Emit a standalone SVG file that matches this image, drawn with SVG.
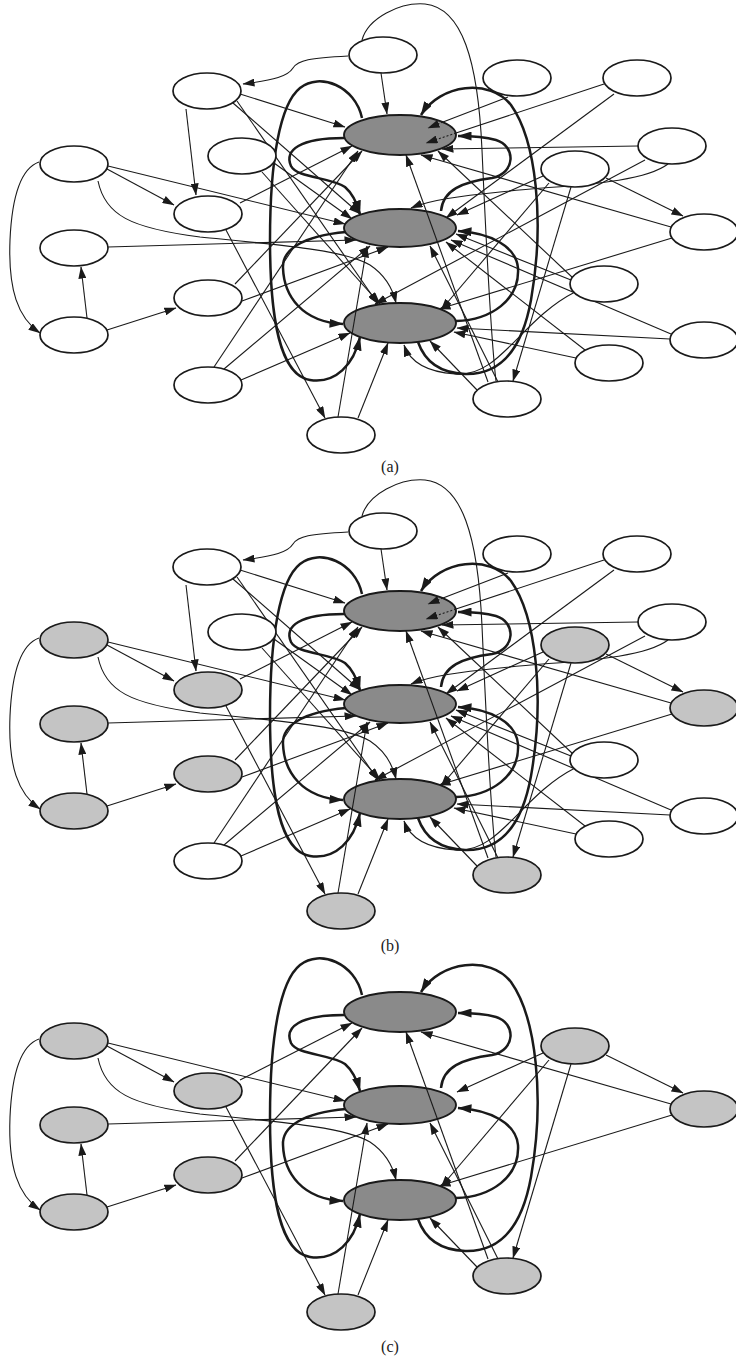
<svg xmlns="http://www.w3.org/2000/svg" width="736" height="1362" viewBox="0 0 736 1362">
<defs>
<marker id="ah" viewBox="0 0 12 8" refX="11.5" refY="4" markerWidth="12" markerHeight="8" markerUnits="userSpaceOnUse" orient="auto"><path d="M0,0 L12,4 L0,8 z" fill="#1a1a1a"/></marker>
<marker id="ahk" viewBox="0 0 14 9" refX="13.5" refY="4.5" markerWidth="14" markerHeight="9" markerUnits="userSpaceOnUse" orient="auto"><path d="M0,0 L14,4.5 L0,9 z" fill="#1a1a1a"/></marker>
</defs>
<style>
.w{fill:#fff;stroke:#1a1a1a;stroke-width:1.7}
.g{fill:#c4c4c4;stroke:#1a1a1a;stroke-width:1.7}
.d{fill:#8a8a8a;stroke:#1a1a1a;stroke-width:1.9}
.e{fill:none;stroke:#1a1a1a;stroke-width:1.1;marker-end:url(#ah)}
.s{fill:none;stroke:#1a1a1a;stroke-width:1.1}
.dash{fill:none;stroke:#1a1a1a;stroke-width:1.1;stroke-dasharray:2 2;marker-end:url(#ah)}
.k{fill:none;stroke:#1a1a1a;stroke-width:2.5;marker-end:url(#ahk)}
.lbl{font-family:"Liberation Serif",serif;font-size:16px;fill:#1a1a1a;text-anchor:middle}
</style>
<rect width="736" height="1362" fill="#fff"/>

<!-- ================= PANEL (a) ================= -->
<g id="panel-a">
<g id="a-connectors">
<path class="k" d="M344,138 C300,138 284,150 291,166 C297,178 330,177 345,187 C352,193 357,203 360,214"/>
<path class="k" d="M441,211 C443,190 462,182 492,178 C516,173 516,146 496,140 C482,136 470,136 458,136"/>
<path class="k" d="M346,232 C302,236 282,250 283,268 C284,296 302,322 343,324"/>
<path class="k" d="M456,321 C491,320 520,300 518,268 C516,246 490,233 458,231"/>
<path class="k" d="M362,118 C355,86 320,72 300,88 C280,104 270,160 270,240 C270,320 280,375 310,380 C336,384 354,364 360,337"/>
<path class="k" d="M418,342 C425,362 440,373 465,374 C500,375 522,350 531,300 C545,220 536,140 511,105 C490,78 440,84 421,115"/>
<path class="e" d="M348,56 C310,58 298,60 293,68 C288,76 275,80 243,84"/>
<path class="e" d="M381,73 L387,114"/>
<path class="s" d="M362,40 C368,18 400,2 425,4 C462,8 478,60 482,150 C486,240 490,330 496,381"/>
<path class="e" d="M240,94 L345,127"/>
<path class="e" d="M186,109 L196,195"/>
<path class="e" d="M233,103 L360,214"/>
<path class="e" d="M237,101 L378,304"/>
<path class="s" d="M508,97 L443,122"/>
<path class="s" d="M604,84 L456,133"/>
<path class="e" d="M614,94 L446,218"/>
<path class="e" d="M638,146 L442,149"/>
<path class="e" d="M668,164 C640,185 560,185 500,192 C460,196 430,200 411,208"/>
<path class="e" d="M645,160 L375,304"/>
<path class="e" d="M606,178 L683,216"/>
<path class="e" d="M543,176 L457,215"/>
<path class="e" d="M549,183 L441,310"/>
<path class="e" d="M571,187 L513,381"/>
<path class="e" d="M671,227 L421,155"/>
<path class="e" d="M672,238 L439,309"/>
<path class="e" d="M274,163 L352,219"/>
<path class="e" d="M262,172 L380,304"/>
<path class="e" d="M107,169 L174,205"/>
<path class="e" d="M108,166 L345,224"/>
<path class="e" d="M39,162 C22,168 12,195 10,240 C8,290 18,318 40,333"/>
<path class="e" d="M98,181 C105,215 130,228 200,237 C280,245 345,250 370,265 C385,275 393,290 396,303"/>
<path class="e" d="M108,247 L356,240"/>
<path class="e" d="M87,318 L81,267"/>
<path class="e" d="M107,330 L176,308"/>
<path class="e" d="M240,203 L352,146"/>
<path class="e" d="M226,230 L325,418"/>
<path class="e" d="M235,284 L362,151"/>
<path class="e" d="M242,301 L388,247"/>
<path class="e" d="M214,367 L358,151"/>
<path class="e" d="M224,369 L370,246"/>
<path class="e" d="M241,380 L350,333"/>
<path class="e" d="M358,418 L388,343"/>
<path class="e" d="M498,382 L430,246"/>
<path class="e" d="M477,390 L430,341"/>
<path class="e" d="M573,278 L438,151"/>
<path class="e" d="M571,280 L456,234"/>
<path class="e" d="M575,292 C520,320 500,378 455,374 C428,372 410,362 404,345"/>
<path class="e" d="M671,334 L451,240"/>
<path class="e" d="M670,339 L457,328"/>
<path class="e" d="M585,350 L446,242"/>
<path class="e" d="M576,358 L454,332"/>
</g>
<g id="a-A"><ellipse class="w" cx="383" cy="55" rx="34" ry="18"/></g>
<g id="a-B"><ellipse class="w" cx="207" cy="91" rx="34" ry="18"/></g>
<g id="a-C"><ellipse class="w" cx="517" cy="78" rx="34" ry="18"/></g>
<g id="a-E"><ellipse class="w" cx="637" cy="78" rx="34" ry="18"/></g>
<g id="a-F"><ellipse class="w" cx="672" cy="146" rx="34" ry="18"/></g>
<g id="a-G"><ellipse class="w" cx="575" cy="169" rx="34" ry="18"/></g>
<g id="a-H"><ellipse class="w" cx="242" cy="156" rx="34" ry="18"/></g>
<g id="a-I"><ellipse class="w" cx="74" cy="164" rx="34" ry="18"/></g>
<g id="a-J"><ellipse class="w" cx="208" cy="214" rx="34" ry="18"/></g>
<g id="a-K"><ellipse class="w" cx="74" cy="248" rx="34" ry="18"/></g>
<g id="a-L"><ellipse class="w" cx="208" cy="298" rx="34" ry="18"/></g>
<g id="a-M"><ellipse class="w" cx="74" cy="335" rx="34" ry="18"/></g>
<g id="a-N"><ellipse class="w" cx="208" cy="385" rx="34" ry="18"/></g>
<g id="a-O"><ellipse class="w" cx="341" cy="435" rx="34" ry="18"/></g>
<g id="a-P"><ellipse class="w" cx="704" cy="232" rx="34" ry="18"/></g>
<g id="a-Q"><ellipse class="w" cx="604" cy="284" rx="34" ry="18"/></g>
<g id="a-R"><ellipse class="w" cx="704" cy="340" rx="34" ry="18"/></g>
<g id="a-S"><ellipse class="w" cx="609" cy="363" rx="34" ry="18"/></g>
<g id="a-T"><ellipse class="w" cx="507" cy="399" rx="34" ry="18"/></g>
<g id="a-D1"><ellipse class="d" cx="400" cy="135" rx="56" ry="20"/></g>
<g id="a-D2"><ellipse class="d" cx="400" cy="228" rx="56" ry="19"/></g>
<g id="a-D3"><ellipse class="d" cx="400" cy="323" rx="56" ry="20"/></g>
<g id="a-connectors-over">
<path class="dash" d="M443,122 L428,128"/>
<path class="dash" d="M456,133 L426,143"/>
<path class="e" d="M488,382 L406,155"/>
<path class="e" d="M338,417 L367,246"/>
</g>
<text class="lbl" x="390" y="472">(a)</text>
</g>

<!-- ================= PANEL (b) ================= -->
<g id="panel-b" transform="translate(0,476)">
<g id="b-connectors">
<path class="k" d="M344,138 C300,138 284,150 291,166 C297,178 330,177 345,187 C352,193 357,203 360,214"/>
<path class="k" d="M441,211 C443,190 462,182 492,178 C516,173 516,146 496,140 C482,136 470,136 458,136"/>
<path class="k" d="M346,232 C302,236 282,250 283,268 C284,296 302,322 343,324"/>
<path class="k" d="M456,321 C491,320 520,300 518,268 C516,246 490,233 458,231"/>
<path class="k" d="M362,118 C355,86 320,72 300,88 C280,104 270,160 270,240 C270,320 280,375 310,380 C336,384 354,364 360,337"/>
<path class="k" d="M418,342 C425,362 440,373 465,374 C500,375 522,350 531,300 C545,220 536,140 511,105 C490,78 440,84 421,115"/>
<path class="e" d="M348,56 C310,58 298,60 293,68 C288,76 275,80 243,84"/>
<path class="e" d="M381,73 L387,114"/>
<path class="s" d="M362,40 C368,18 400,2 425,4 C462,8 478,60 482,150 C486,240 490,330 496,381"/>
<path class="e" d="M240,94 L345,127"/>
<path class="e" d="M186,109 L196,195"/>
<path class="e" d="M233,103 L360,214"/>
<path class="e" d="M237,101 L378,304"/>
<path class="s" d="M508,97 L443,122"/>
<path class="s" d="M604,84 L456,133"/>
<path class="e" d="M614,94 L446,218"/>
<path class="e" d="M638,146 L442,149"/>
<path class="e" d="M668,164 C640,185 560,185 500,192 C460,196 430,200 411,208"/>
<path class="e" d="M645,160 L375,304"/>
<path class="e" d="M606,178 L683,216"/>
<path class="e" d="M543,176 L457,215"/>
<path class="e" d="M549,183 L441,310"/>
<path class="e" d="M571,187 L513,381"/>
<path class="e" d="M671,227 L421,155"/>
<path class="e" d="M672,238 L439,309"/>
<path class="e" d="M274,163 L352,219"/>
<path class="e" d="M262,172 L380,304"/>
<path class="e" d="M107,169 L174,205"/>
<path class="e" d="M108,166 L345,224"/>
<path class="e" d="M39,162 C22,168 12,195 10,240 C8,290 18,318 40,333"/>
<path class="e" d="M98,181 C105,215 130,228 200,237 C280,245 345,250 370,265 C385,275 393,290 396,303"/>
<path class="e" d="M108,247 L356,240"/>
<path class="e" d="M87,318 L81,267"/>
<path class="e" d="M107,330 L176,308"/>
<path class="e" d="M240,203 L352,146"/>
<path class="e" d="M226,230 L325,418"/>
<path class="e" d="M235,284 L362,151"/>
<path class="e" d="M242,301 L388,247"/>
<path class="e" d="M214,367 L358,151"/>
<path class="e" d="M224,369 L370,246"/>
<path class="e" d="M241,380 L350,333"/>
<path class="e" d="M358,418 L388,343"/>
<path class="e" d="M498,382 L430,246"/>
<path class="e" d="M477,390 L430,341"/>
<path class="e" d="M573,278 L438,151"/>
<path class="e" d="M571,280 L456,234"/>
<path class="e" d="M575,292 C520,320 500,378 455,374 C428,372 410,362 404,345"/>
<path class="e" d="M671,334 L451,240"/>
<path class="e" d="M670,339 L457,328"/>
<path class="e" d="M585,350 L446,242"/>
<path class="e" d="M576,358 L454,332"/>
</g>
<g id="b-A"><ellipse class="w" cx="383" cy="55" rx="34" ry="18"/></g>
<g id="b-B"><ellipse class="w" cx="207" cy="91" rx="34" ry="18"/></g>
<g id="b-C"><ellipse class="w" cx="517" cy="78" rx="34" ry="18"/></g>
<g id="b-E"><ellipse class="w" cx="637" cy="78" rx="34" ry="18"/></g>
<g id="b-F"><ellipse class="w" cx="672" cy="146" rx="34" ry="18"/></g>
<g id="b-G"><ellipse class="g" cx="575" cy="169" rx="34" ry="18"/></g>
<g id="b-H"><ellipse class="w" cx="242" cy="156" rx="34" ry="18"/></g>
<g id="b-I"><ellipse class="g" cx="74" cy="164" rx="34" ry="18"/></g>
<g id="b-J"><ellipse class="g" cx="208" cy="214" rx="34" ry="18"/></g>
<g id="b-K"><ellipse class="g" cx="74" cy="248" rx="34" ry="18"/></g>
<g id="b-L"><ellipse class="g" cx="208" cy="298" rx="34" ry="18"/></g>
<g id="b-M"><ellipse class="g" cx="74" cy="335" rx="34" ry="18"/></g>
<g id="b-N"><ellipse class="w" cx="208" cy="385" rx="34" ry="18"/></g>
<g id="b-O"><ellipse class="g" cx="341" cy="435" rx="34" ry="18"/></g>
<g id="b-P"><ellipse class="g" cx="704" cy="232" rx="34" ry="18"/></g>
<g id="b-Q"><ellipse class="w" cx="604" cy="284" rx="34" ry="18"/></g>
<g id="b-R"><ellipse class="w" cx="704" cy="340" rx="34" ry="18"/></g>
<g id="b-S"><ellipse class="w" cx="609" cy="363" rx="34" ry="18"/></g>
<g id="b-T"><ellipse class="g" cx="507" cy="399" rx="34" ry="18"/></g>
<g id="b-D1"><ellipse class="d" cx="400" cy="135" rx="56" ry="20"/></g>
<g id="b-D2"><ellipse class="d" cx="400" cy="228" rx="56" ry="19"/></g>
<g id="b-D3"><ellipse class="d" cx="400" cy="323" rx="56" ry="20"/></g>
<g id="b-connectors-over">
<path class="dash" d="M443,122 L428,128"/>
<path class="dash" d="M456,133 L426,143"/>
<path class="e" d="M488,382 L406,155"/>
<path class="e" d="M338,417 L367,246"/>
</g>
<text class="lbl" x="390" y="475">(b)</text>
</g>

<!-- ================= PANEL (c) ================= -->
<g id="panel-c" transform="translate(0,877)">
<g id="c-connectors">
<path class="k" d="M344,138 C300,138 284,150 291,166 C297,178 330,177 345,187 C352,193 357,203 360,214"/>
<path class="k" d="M441,211 C443,190 462,182 492,178 C516,173 516,146 496,140 C482,136 470,136 458,136"/>
<path class="k" d="M346,232 C302,236 282,250 283,268 C284,296 302,322 343,324"/>
<path class="k" d="M456,321 C491,320 520,300 518,268 C516,246 490,233 458,231"/>
<path class="k" d="M362,118 C355,86 320,72 300,88 C280,104 270,160 270,240 C270,320 280,375 310,380 C336,384 354,364 360,337"/>
<path class="k" d="M418,342 C425,362 440,373 465,374 C500,375 522,350 531,300 C545,220 536,140 511,105 C490,78 440,84 421,115"/>
<path class="e" d="M606,178 L683,216"/>
<path class="e" d="M543,176 L457,215"/>
<path class="e" d="M549,183 L441,310"/>
<path class="e" d="M571,187 L513,381"/>
<path class="e" d="M671,227 L421,155"/>
<path class="e" d="M672,238 L439,309"/>
<path class="e" d="M107,169 L174,205"/>
<path class="e" d="M108,166 L345,224"/>
<path class="e" d="M39,162 C22,168 12,195 10,240 C8,290 18,318 40,333"/>
<path class="e" d="M98,181 C105,215 130,228 200,237 C280,245 345,250 370,265 C385,275 393,290 396,303"/>
<path class="e" d="M108,247 L356,240"/>
<path class="e" d="M87,318 L81,267"/>
<path class="e" d="M107,330 L176,308"/>
<path class="e" d="M240,203 L352,146"/>
<path class="e" d="M226,230 L325,418"/>
<path class="e" d="M235,284 L362,151"/>
<path class="e" d="M242,301 L388,247"/>
<path class="e" d="M358,418 L388,343"/>
<path class="e" d="M498,382 L430,246"/>
<path class="e" d="M477,390 L430,341"/>
</g>
<g id="c-G"><ellipse class="g" cx="575" cy="169" rx="34" ry="18"/></g>
<g id="c-I"><ellipse class="g" cx="74" cy="164" rx="34" ry="18"/></g>
<g id="c-J"><ellipse class="g" cx="208" cy="214" rx="34" ry="18"/></g>
<g id="c-K"><ellipse class="g" cx="74" cy="248" rx="34" ry="18"/></g>
<g id="c-L"><ellipse class="g" cx="208" cy="298" rx="34" ry="18"/></g>
<g id="c-M"><ellipse class="g" cx="74" cy="335" rx="34" ry="18"/></g>
<g id="c-O"><ellipse class="g" cx="341" cy="435" rx="34" ry="18"/></g>
<g id="c-P"><ellipse class="g" cx="704" cy="232" rx="34" ry="18"/></g>
<g id="c-T"><ellipse class="g" cx="507" cy="399" rx="34" ry="18"/></g>
<g id="c-D1"><ellipse class="d" cx="400" cy="135" rx="56" ry="20"/></g>
<g id="c-D2"><ellipse class="d" cx="400" cy="228" rx="56" ry="19"/></g>
<g id="c-D3"><ellipse class="d" cx="400" cy="323" rx="56" ry="20"/></g>
<g id="c-connectors-over">
<path class="e" d="M488,382 L406,155"/>
<path class="e" d="M338,417 L367,246"/>
</g>
<text class="lbl" x="390" y="475">(c)</text>
</g>
</svg>
